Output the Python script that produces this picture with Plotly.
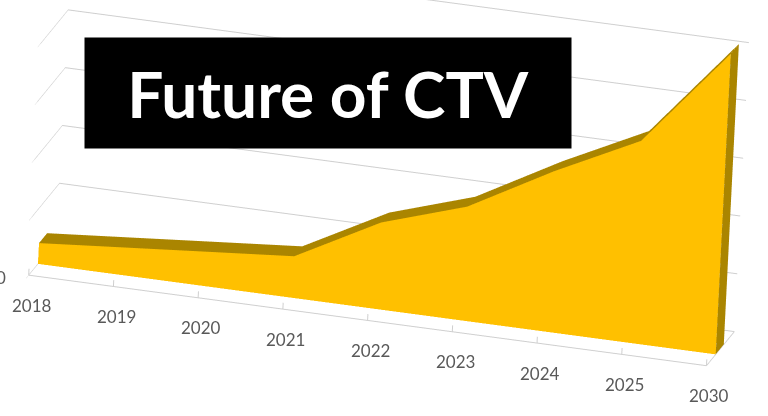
import plotly.graph_objects as go

categories = ["2018", "2019", "2020", "2021", "2022", "2023", "2024", "2025", "2030"]
values = [0.36, 0.48, 0.60, 0.72, 1.50, 1.97, 2.78, 3.50, 5.20]
value_ticks = [0, 1, 2, 3, 4, 5]
zero_label = "0"
title_text = "Future of CTV"

FRONT = "#FFC000"
DARK = "#AA8500"
GRID = "#CFCFCF"
LABEL = "#595959"
Y0, Y1 = 0.33, 0.62

vx, vy, vz, fi, fj, fk, fc = [], [], [], [], [], [], []


def add_quad(corners, color):
    n = len(vx)
    for (a, b, c) in corners:
        vx.append(a)
        vy.append(b)
        vz.append(c)
    fi.extend([n, n])
    fj.extend([n + 1, n + 2])
    fk.extend([n + 2, n + 3])
    fc.extend([color, color])


for idx in range(len(values) - 1):
    a, b = values[idx], values[idx + 1]
    add_quad([(idx, Y0, 0), (idx + 1, Y0, 0), (idx + 1, Y0, b), (idx, Y0, a)], FRONT)
    add_quad([(idx, Y0, a), (idx + 1, Y0, b), (idx + 1, Y1, b), (idx, Y1, a)], DARK)
last = len(values) - 1
add_quad([(last, Y0, 0), (last, Y1, 0), (last, Y1, values[-1]), (last, Y0, values[-1])], DARK)

fig = go.Figure(
    go.Mesh3d(
        x=vx, y=vy, z=vz, i=fi, j=fj, k=fk, facecolor=fc, flatshading=True,
        lighting=dict(ambient=1, diffuse=0, specular=0, roughness=1, fresnel=0),
        hoverinfo="skip", showscale=False,
    )
)

# small tick marks on the front floor edge
tx, ty, tz = [], [], []
for idx in range(len(categories)):
    tx += [idx, idx, None]
    ty += [0, 0, None]
    tz += [0, 0.11, None]
fig.add_trace(go.Scatter3d(x=tx, y=ty, z=tz, mode="lines", line=dict(color=GRID, width=2),
                           hoverinfo="skip", showlegend=False))

scene_labels = [
    dict(x=idx, y=0, z=0, text=cat, showarrow=False, xshift=3, yshift=-30, xanchor="center",
         yanchor="middle", font=dict(family="Lato", size=17, color=LABEL))
    for idx, cat in enumerate(categories)
]
scene_labels.append(
    dict(x=0, y=0, z=0, text=zero_label, showarrow=False, xshift=-28, yshift=-2, xanchor="center",
         yanchor="middle", font=dict(family="Lato", size=17, color=LABEL))
)

fig.update_layout(
    width=768,
    height=416,
    margin=dict(l=0, r=0, t=0, b=0),
    paper_bgcolor="white",
    showlegend=False,
    scene=dict(
        domain=dict(x=[0, 1], y=[0, 1]),
        aspectmode="manual",
        aspectratio=dict(x=3.375, y=0.524, z=1.565),
        camera=dict(
            projection=dict(type="orthographic"),
            up=dict(x=-0.046, y=-0.011, z=1),
            center=dict(x=0.012, y=-0.095, z=-0.262),
            eye=dict(x=0.916, y=-3.752, z=1.078),
        ),
        annotations=scene_labels,
        xaxis=dict(
            range=[0, 8], showgrid=False, zeroline=False, showline=True, linecolor=GRID, linewidth=2,
            showticklabels=False, ticks="", title="", showbackground=False, showspikes=False,
        ),
        yaxis=dict(
            range=[0, 1], showgrid=False, zeroline=False, showline=True, linecolor=GRID,
            linewidth=2, showticklabels=False, ticks="", title="", showbackground=False,
            showspikes=False,
        ),
        zaxis=dict(
            range=[0, 5.3], tickvals=value_ticks, showticklabels=False,
            showgrid=True, gridcolor=GRID, gridwidth=2, zeroline=False, showline=False,
            ticks="outside", tickcolor=GRID, ticklen=4, title="",
            showbackground=False, showspikes=False,
        ),
    ),
    annotations=[
        dict(
            text="<b>" + title_text + "</b>", xref="paper", yref="paper",
            x=328 / 768, y=1 - 93 / 416, xanchor="center", yanchor="middle",
            width=484, height=108, showarrow=False, bgcolor="black", align="center",
            valign="middle", font=dict(family="Lato", size=64, color="white"),
        )
    ],
)

fig.write_html("out.html", config=dict(displayModeBar=False),
               post_script="document.body.style.margin='0';")
